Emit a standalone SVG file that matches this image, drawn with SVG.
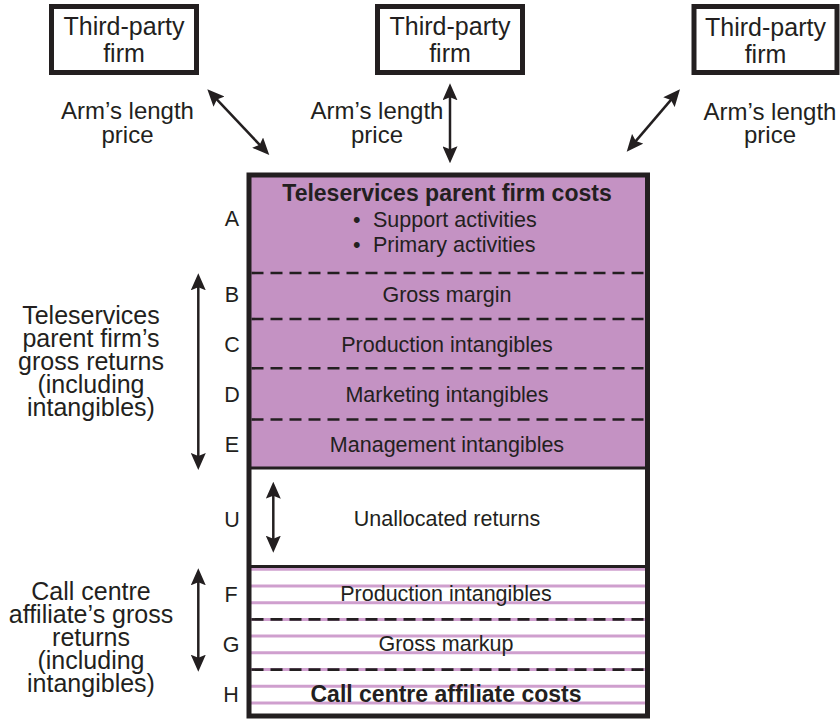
<svg xmlns="http://www.w3.org/2000/svg" width="840" height="720" viewBox="0 0 840 720">
<defs>
<style>
text{font-family:"Liberation Sans",Arial,sans-serif;fill:#231f20}
.outer{font-size:24px;text-anchor:middle}
.boxt{font-size:25px;text-anchor:middle}
.side{font-size:25px;text-anchor:middle}
.inner{font-size:21.5px;text-anchor:middle}
.bold{font-size:23px;font-weight:bold;text-anchor:middle}
.letter{font-size:21.5px;text-anchor:middle}
.box{fill:#fff;stroke:#231f20;stroke-width:5}
.dash{stroke:#231f20;stroke-width:2.6;stroke-dasharray:12 7;fill:none}
.solid{stroke:#231f20;stroke-width:3;fill:none}
.stripe{stroke:#cf9fce;stroke-width:3;fill:none}
.arrow{stroke:#231f20;stroke-width:2.5;fill:none;marker-start:url(#ah);marker-end:url(#ah)}
</style>
<marker id="ah" viewBox="0 0 17 15" markerWidth="17" markerHeight="15" refX="9" refY="7.5" markerUnits="userSpaceOnUse" orient="auto-start-reverse">
<path d="M0,0 L17,7.5 L0,15 L3,7.5 z" fill="#231f20"/>
</marker>
</defs>

<g id="third-party-1">
<rect class="box" x="51.5" y="6.5" width="145" height="66"/>
<text class="boxt" x="124" y="35">Third-party</text>
<text class="boxt" x="124" y="62">firm</text>
</g>
<g id="third-party-2">
<rect class="box" x="377.5" y="6.5" width="145" height="66"/>
<text class="boxt" x="450" y="35">Third-party</text>
<text class="boxt" x="450" y="62">firm</text>
</g>
<g id="third-party-3">
<rect class="box" x="694" y="6.5" width="143" height="66"/>
<text class="boxt" x="765.5" y="36">Third-party</text>
<text class="boxt" x="765.5" y="62.5">firm</text>
</g>

<g id="price-labels">
<text class="outer" x="127.5" y="119">Arm’s length</text>
<text class="outer" x="127.5" y="143">price</text>
<text class="outer" x="377" y="119">Arm’s length</text>
<text class="outer" x="377" y="143">price</text>
<text class="outer" x="770" y="120">Arm’s length</text>
<text class="outer" x="770" y="143">price</text>
</g>

<g id="stack">
<rect x="249" y="175" width="398.5" height="293" fill="#c492c3"/>
<rect x="249" y="468" width="398.5" height="98.5" fill="#fff"/>
<rect x="249" y="566.5" width="398.5" height="149.5" fill="#fff"/>
<g id="stripes">
<line class="stripe" x1="249" x2="647.5" y1="569.3" y2="569.3"/>
<line class="stripe" x1="249" x2="647.5" y1="586" y2="586"/>
<line class="stripe" x1="249" x2="647.5" y1="602.7" y2="602.7"/>
<line class="stripe" x1="249" x2="647.5" y1="619.4" y2="619.4"/>
<line class="stripe" x1="249" x2="647.5" y1="636.1" y2="636.1"/>
<line class="stripe" x1="249" x2="647.5" y1="652.8" y2="652.8"/>
<line class="stripe" x1="249" x2="647.5" y1="669.6" y2="669.6"/>
<line class="stripe" x1="249" x2="647.5" y1="686.3" y2="686.3"/>
<line class="stripe" x1="249" x2="647.5" y1="703" y2="703"/>
</g>
<line class="dash" x1="251.5" x2="645" y1="273" y2="273"/>
<line class="dash" x1="251.5" x2="645" y1="319" y2="319"/>
<line class="dash" x1="251.5" x2="645" y1="368.3" y2="368.3"/>
<line class="dash" x1="251.5" x2="645" y1="419.5" y2="419.5"/>
<line class="solid" x1="249" x2="647.5" y1="468" y2="468"/>
<line class="solid" x1="249" x2="647.5" y1="566.5" y2="566.5"/>
<line class="dash" x1="251.5" x2="645" y1="619.4" y2="619.4"/>
<line class="dash" x1="251.5" x2="645" y1="669.6" y2="669.6"/>
<rect x="249" y="175" width="398.5" height="541" fill="none" stroke="#231f20" stroke-width="5"/>
</g>

<g id="section-A">
<text class="bold" x="447" y="201">Teleservices parent firm costs</text>
<text style="font-size:21.5px"><tspan x="353" y="226.7">•</tspan><tspan x="373" y="226.7">Support activities</tspan></text>
<text style="font-size:21.5px"><tspan x="353" y="251.7">•</tspan><tspan x="373" y="251.7">Primary activities</tspan></text>
<text class="letter" x="232" y="226">A</text>
</g>
<g id="section-B">
<text class="inner" x="447" y="301.7">Gross margin</text>
<text class="letter" x="232" y="301.7">B</text>
</g>
<g id="section-C">
<text class="inner" x="447" y="351.7">Production intangibles</text>
<text class="letter" x="232" y="351.7">C</text>
</g>
<g id="section-D">
<text class="inner" x="447" y="401.7">Marketing intangibles</text>
<text class="letter" x="232" y="401.7">D</text>
</g>
<g id="section-E">
<text class="inner" x="447" y="451.7">Management intangibles</text>
<text class="letter" x="232" y="451.7">E</text>
</g>
<g id="section-U">
<text class="inner" x="447" y="525.5">Unallocated returns</text>
<text class="letter" x="232" y="527">U</text>
</g>
<g id="section-F">
<text class="inner" x="446" y="601">Production intangibles</text>
<text class="letter" x="231" y="601.5">F</text>
</g>
<g id="section-G">
<text class="inner" x="446" y="651">Gross markup</text>
<text class="letter" x="231" y="651.5">G</text>
</g>
<g id="section-H">
<text class="bold" x="446" y="701.5">Call centre affiliate costs</text>
<text class="letter" x="231" y="701.5">H</text>
</g>

<g id="parent-returns-label">
<text class="side" x="91" y="324">Teleservices</text>
<text class="side" x="91" y="347">parent firm’s</text>
<text class="side" x="91" y="370">gross returns</text>
<text class="side" x="91" y="393">(including</text>
<text class="side" x="91" y="416">intangibles)</text>
</g>
<g id="affiliate-returns-label">
<text class="side" x="91" y="599.5">Call centre</text>
<text class="side" x="91" y="622.5">affiliate’s gross</text>
<text class="side" x="91" y="645.5">returns</text>
<text class="side" x="91" y="668.5">(including</text>
<text class="side" x="91" y="691.5">intangibles)</text>
</g>

<g id="connectors">
<line class="arrow" x1="212.8" y1="95.1" x2="263.8" y2="149.2"/>
<line class="arrow" x1="450" y1="91.3" x2="450" y2="155.3"/>
<line class="arrow" x1="674.8" y1="95.4" x2="631.9" y2="145.6"/>
<line class="arrow" x1="198.3" y1="281.3" x2="198.3" y2="462"/>
<line class="arrow" x1="198.3" y1="576.3" x2="198.3" y2="663.7"/>
<line class="arrow" x1="273.3" y1="489.7" x2="273.3" y2="544.7"/>
</g>
</svg>
